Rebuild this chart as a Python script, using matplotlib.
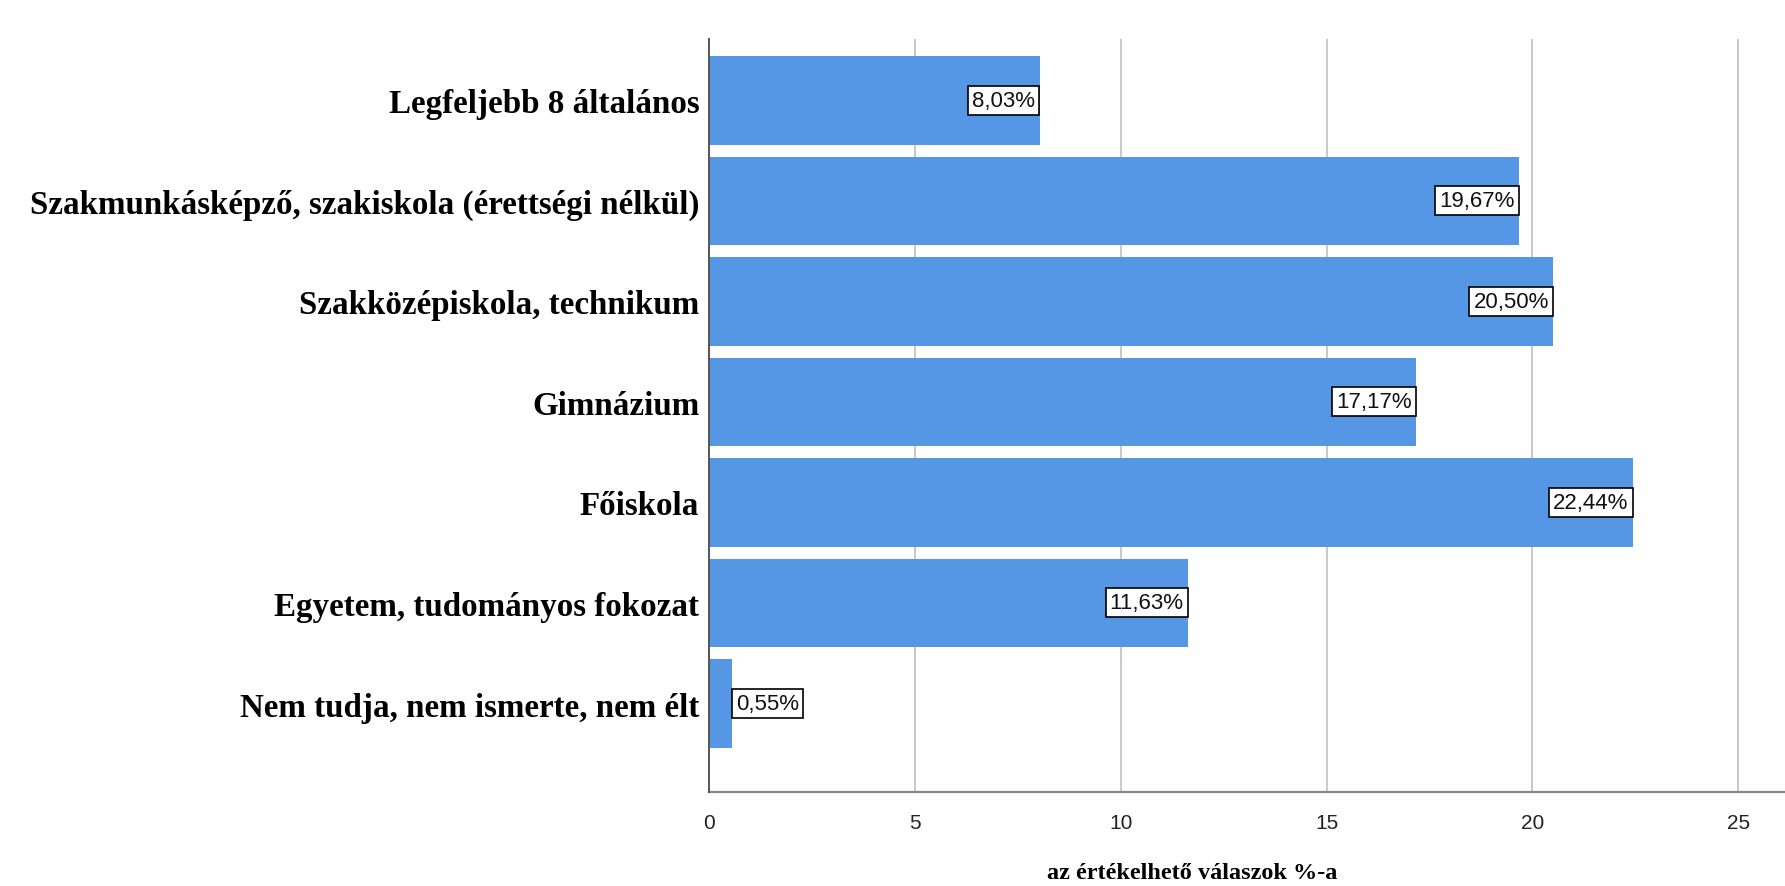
import matplotlib
matplotlib.use("Agg")
import matplotlib.pyplot as plt

categories = [
    "Legfeljebb 8 általános",
    "Szakmunkásképző, szakiskola (érettségi nélkül)",
    "Szakközépiskola, technikum",
    "Gimnázium",
    "Főiskola",
    "Egyetem, tudományos fokozat",
    "Nem tudja, nem ismerte, nem élt",
]
values = [8.03, 19.67, 20.50, 17.17, 22.44, 11.63, 0.55]
value_labels = ["8,03%", "19,67%", "20,50%", "17,17%", "22,44%", "11,63%", "0,55%"]
xticks = [0, 5, 10, 15, 20, 25]
xlabel = "az értékelhető válaszok %-a"

W, H = 1785, 887
fig = plt.figure(figsize=(W / 100, H / 100), dpi=100)
ax = fig.add_axes([709 / W, 1 - 793 / H, 1 - 709 / W, (793 - 40) / H])

ypos = list(range(len(categories)))
ax.barh(ypos, values, height=0.88, color="#5596e5", zorder=3)
ax.set_ylim(6.88, -0.61)
ax.set_xlim(0, (W - 709) / 41.17)

ax.set_xticks(xticks)
ax.set_xticklabels([str(t) for t in xticks], fontfamily="Liberation Sans", fontsize=15, color="#222222")
ax.set_yticks(ypos)
ax.set_yticklabels(categories, fontfamily="Liberation Serif", fontweight="bold", fontsize=23.8)
ax.tick_params(axis="both", length=0)
ax.tick_params(axis="x", pad=15)
ax.tick_params(axis="y", pad=7)

ax.grid(axis="x", color="#c8c8c8", linewidth=1.4, zorder=0)
ax.set_axisbelow(True)
for s in ["top", "right"]:
    ax.spines[s].set_visible(False)
ax.spines["left"].set_color("#555555")
ax.spines["left"].set_linewidth(1.4)
ax.spines["bottom"].set_color("#888888")
ax.spines["bottom"].set_linewidth(1.6)
ax.spines["left"].set_zorder(4)

for y, v, lab in zip(ypos, values, value_labels):
    inside = v > 3
    ax.annotate(lab, xy=(v, y), xytext=(-3 if inside else 3, 0), textcoords="offset points",
                ha="right" if inside else "left", va="center",
                fontfamily="Liberation Sans", fontsize=16,
                color="#111111", zorder=5,
                bbox=dict(boxstyle="square,pad=0.18", fc="white", ec="black", lw=1.2))

fig.text(1192 / W, 1 - 874 / H, xlabel, ha="center", va="center",
         fontfamily="Liberation Serif", fontweight="bold", fontsize=17.5)

fig.savefig("out.png", dpi=100)
